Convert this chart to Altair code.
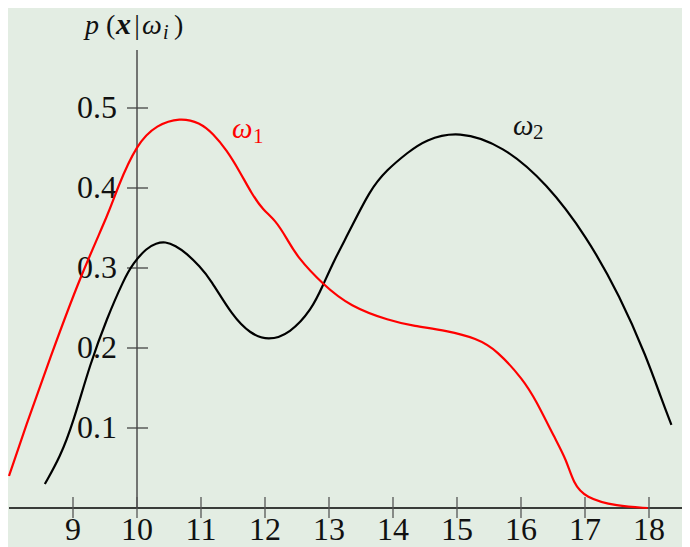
import altair as alt
import pandas as pd

# ---- data ----
red_x = [8.0, 8.25, 8.64, 9.11, 9.58, 9.68, 10.0, 10.31, 10.67, 10.98, 11.19, 11.40, 11.61,
         11.79, 11.97, 12.16, 12.34, 12.5, 12.91, 13.33, 13.95, 14.32, 14.84, 15.31, 15.62,
         16.04, 16.23, 16.53, 16.71, 16.82, 17.0, 17.5, 17.98]
red_y = [0.04, 0.0996, 0.187, 0.289, 0.3725, 0.3975, 0.456, 0.479, 0.488, 0.482, 0.468, 0.4475,
         0.42, 0.393, 0.3725, 0.36, 0.337, 0.314, 0.279, 0.252, 0.234, 0.2275, 0.2217, 0.212,
         0.1975, 0.16, 0.135, 0.087, 0.06, 0.031, 0.013, 0.002, 0.0]

black_x = [8.56, 8.80, 9.0, 9.27, 9.53, 9.79, 9.94, 10.15, 10.30, 10.44, 10.60, 10.78, 10.98,
           11.14, 11.5, 11.77, 12.05, 12.39, 12.73, 12.91, 13.07, 13.33, 13.64, 13.90, 14.24,
           14.5, 15.02, 15.72, 16.4, 17.03, 17.55, 17.96, 18.2, 18.35]
black_y = [0.03, 0.064, 0.106, 0.181, 0.237, 0.285, 0.306, 0.325, 0.331, 0.333, 0.328, 0.318,
           0.302, 0.287, 0.239, 0.218, 0.209, 0.218, 0.248, 0.279, 0.308, 0.3475, 0.3975, 0.4225,
           0.445, 0.460, 0.472, 0.453, 0.406, 0.339, 0.264, 0.189, 0.135, 0.104]

x_ticks = [9, 10, 11, 12, 13, 14, 15, 16, 17, 18]
x_tick_labels = ["9", "10", "11", "12", "13", "14", "15", "16", "17", "18"]
y_ticks = [0.1, 0.2, 0.3, 0.4, 0.5]
y_tick_labels = ["0.1", "0.2", "0.3", "0.4", "0.5"]

# ---- layout ----
W, H = 674, 539
PX_PER_X = 64.0
PX_PER_Y = 800.0
x0_px = 129          # chart pixel of x = 10
y0_px = 500          # chart pixel of y = 0
x_dom = [10 - x0_px / PX_PER_X, 10 + (W - x0_px) / PX_PER_X]
y_dom = [-(H - y0_px) / PX_PER_Y, y0_px / PX_PER_Y]

FONT = "Liberation Serif"
BG = "#e3ede3"

xs = alt.Scale(domain=x_dom, nice=False, zero=False)
ys = alt.Scale(domain=y_dom, nice=False, zero=False)
X = lambda f: alt.X(f, type="quantitative", scale=xs, axis=None)
Y = lambda f: alt.Y(f, type="quantitative", scale=ys, axis=None)

red_df = pd.DataFrame({"x": red_x, "y": red_y})
black_df = pd.DataFrame({"x": black_x, "y": black_y})
xt_df = pd.DataFrame({"v": x_ticks, "t": x_tick_labels})
yt_df = pd.DataFrame({"v": y_ticks, "t": y_tick_labels})
one = pd.DataFrame({"a": [0]})

# axis lines
y_axis = alt.Chart(one).mark_rule(color="#555555", strokeWidth=1.6).encode(
    x=alt.value(x0_px), y=alt.value(42), y2=alt.value(y0_px))
x_axis = alt.Chart(one).mark_rule(color="#000000", strokeWidth=1.3).encode(
    x=alt.value(1), x2=alt.value(W), y=alt.value(y0_px))

# ticks crossing the axes
y_tick_marks = alt.Chart(yt_df).mark_rule(color="#444444", strokeWidth=1.3).encode(
    y=Y("v"), x=alt.value(x0_px - 10), x2=alt.value(x0_px + 11))
x_tick_marks = alt.Chart(xt_df).mark_rule(color="#555555", strokeWidth=1.3).encode(
    x=X("v"), y=alt.value(y0_px - 11), y2=alt.value(y0_px + 10))

y_labels = alt.Chart(yt_df).mark_text(font=FONT, fontSize=32, align="right", baseline="middle",
                                      color="#111111").encode(
    y=Y("v"), x=alt.value(x0_px - 20), text="t:N")
x_labels = alt.Chart(xt_df).mark_text(font=FONT, fontSize=32, align="center", baseline="alphabetic",
                                      color="#111111").encode(
    x=X("v"), y=alt.value(y0_px + 32), text="t:N")

red_line = alt.Chart(red_df).mark_line(color="#ff0000", strokeWidth=2.2, interpolate="basis").encode(
    x=X("x"), y=Y("y"))
black_line = alt.Chart(black_df).mark_line(color="#000000", strokeWidth=2.2, interpolate="basis").encode(
    x=X("x"), y=Y("y"))


def txt(s, px, py, size=28, style="normal", weight="normal", color="#111111", align="left"):
    return alt.Chart(one).mark_text(text=s, font=FONT, fontSize=size, fontStyle=style,
                                    fontWeight=weight, color=color, align=align,
                                    baseline="alphabetic").encode(
        x=alt.value(px), y=alt.value(py))


title_parts = [
    txt("p", 77, 26, style="italic"),
    txt("(", 98, 26),
    txt("x", 108, 26, size=30, style="italic", weight="bold"),
    txt("|", 129, 26, align="center"),
    txt("ω", 134, 26, style="italic"),
    txt("i", 155, 31, size=20, style="italic"),
    txt(")", 166, 26),
]

omega_labels = [
    txt("ω", 224, 130, size=29, style="italic", color="#ff0000"),
    txt("1", 245, 135, size=21, color="#ff0000"),
    txt("ω", 505, 127, size=29, style="italic"),
    txt("2", 525, 131, size=21),
]

chart = alt.layer(
    y_axis, x_axis, y_tick_marks, x_tick_marks, y_labels, x_labels,
    black_line, red_line, *title_parts, *omega_labels
).properties(
    width=W, height=H, autosize=alt.AutoSizeParams(type="none"), padding=0,
    background=BG
).configure_view(stroke=None)

chart.save("out.html", embed_options={"renderer": "svg", "actions": False})
